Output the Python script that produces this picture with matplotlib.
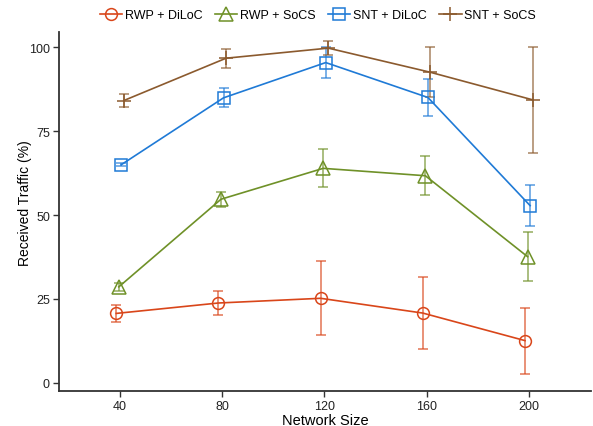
import matplotlib
matplotlib.use("Agg")
import matplotlib.pyplot as plt
import numpy as np

plt.rcParams['font.family'] = ['Liberation Sans', 'DejaVu Sans']

network_size = [40, 80, 120, 160, 200]
series_names = ["RWP + DiLoC", "RWP + SoCS", "SNT + DiLoC", "SNT + SoCS"]
rwp_diloc = [20.7, 23.8, 25.2, 20.8, 12.6]
rwp_diloc_err = [2.6, 3.7, 11.0, 10.6, 9.8]
rwp_socs = [28.6, 54.7, 63.9, 61.7, 37.6]
rwp_socs_err = [1.2, 2.3, 5.7, 5.8, 7.3]
snt_diloc = [65.0, 84.9, 95.4, 85.0, 52.8]
snt_diloc_err = [0.5, 2.8, 4.7, 5.4, 6.0]
snt_socs = [84.1, 96.7, 99.7, 92.5, 84.3]
snt_socs_err = [2.0, 2.8, 2.0, 7.5, 15.7]

means = [rwp_diloc, rwp_socs, snt_diloc, snt_socs]
errs = [rwp_diloc_err, rwp_socs_err, snt_diloc_err, snt_socs_err]
colors = ["#D9461A", "#6F9128", "#1F7AD6", "#8B5A2E"]
markers = ["o", "^", "s", "+"]
msizes = [8.5, 10, 8.5, 10]
dodge = [-1.5, -0.5, 0.5, 1.5]

fig = plt.figure(figsize=(5.93, 4.27), dpi=100)
ax = fig.add_axes([0.0995, 0.082, 0.897, 0.8407])

handles = []
x = np.array(network_size, dtype=float)
for m, e, c, mk, ms, d, name in zip(means, errs, colors, markers, msizes, dodge, series_names):
    xs = x + d
    ax.errorbar(xs, m, yerr=e, fmt="none", ecolor=c, elinewidth=1.1, capsize=3.5,
                capthick=1.1, alpha=0.75, zorder=2)
    h, = ax.plot(xs, m, color=c, lw=1.2, marker=mk, markersize=ms,
                 markerfacecolor="none", markeredgecolor=c, markeredgewidth=1.1,
                 label=name, zorder=3)
    handles.append(h)

ax.set_xlim(16.1, 224.3)
ax.set_ylim(-2.4, 104.5)
ax.set_xticks(network_size)
ax.set_yticks([0, 25, 50, 75, 100])
ax.set_xlabel("Network Size", fontsize=10.5, labelpad=0.5)
ax.set_ylabel("Received Traffic (%)", fontsize=10)
ax.yaxis.set_label_coords(-0.051, 0.526)
for s in ["top", "right"]:
    ax.spines[s].set_visible(False)
for s in ["left", "bottom"]:
    ax.spines[s].set_color("#333333")
    ax.spines[s].set_linewidth(1.3)
ax.tick_params(axis="both", direction="out", length=4, width=1, color="#333333",
               labelsize=9, labelcolor="#222222", pad=2.5)

fig.legend(handles=handles, loc="center", bbox_to_anchor=(0.536, 0.962), ncol=4,
           frameon=False, fontsize=9, handlelength=1.8, handletextpad=0.2,
           columnspacing=1.0)

fig.savefig("out.png", dpi=100)
